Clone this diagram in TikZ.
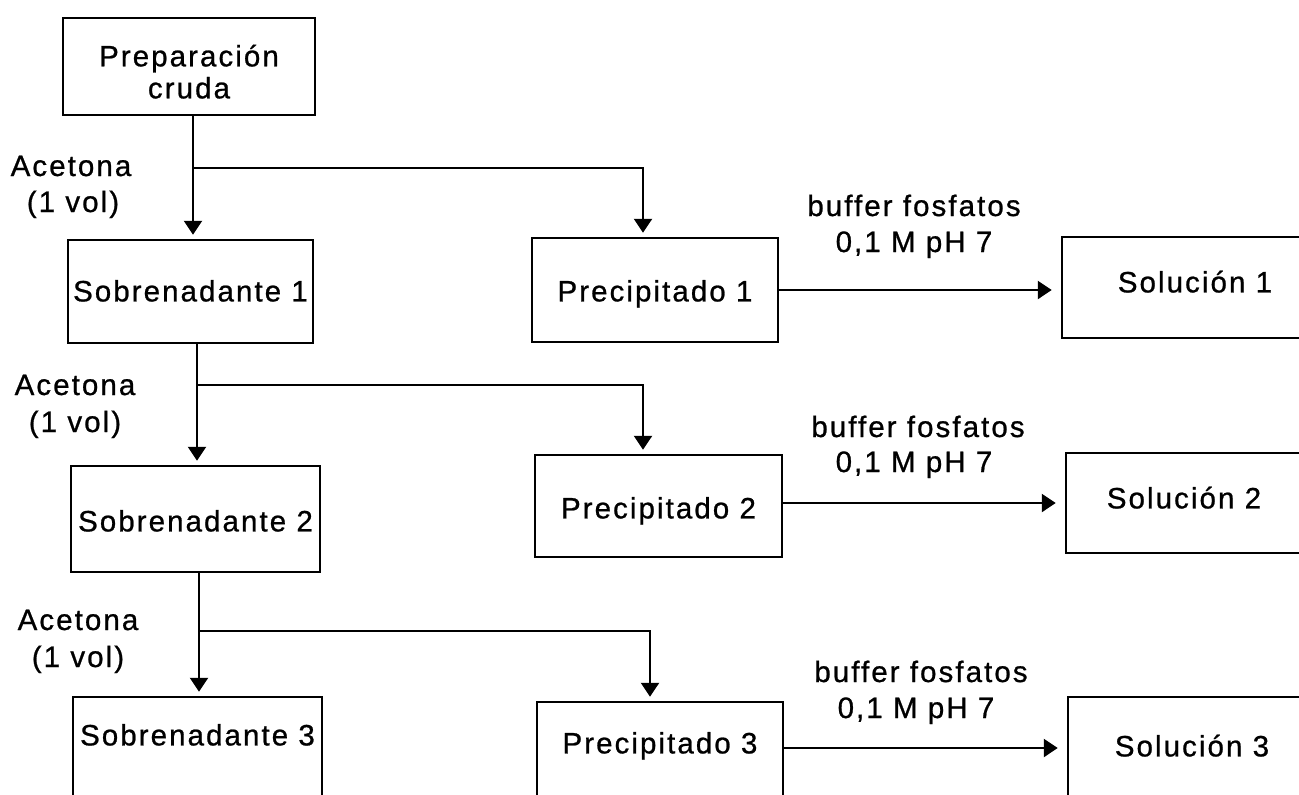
\documentclass[tikz,border=0pt]{standalone}
\usepackage{fontspec}
\setmainfont{Liberation Sans}[LetterSpace=7,FakeBold=0.8]
\usetikzlibrary{arrows.meta,calc}
\begin{document}
\begin{tikzpicture}[x=1pt,y=-1pt,line width=2.5pt,
  every node/.style={font=\fontsize{29.5}{32}\selectfont, inner sep=0pt},
  box/.style={draw, rectangle, align=center, line width=2.5pt},
  lab/.style={anchor=base},
  arr/.style={-{Triangle[width=18pt,length=14pt]}},
  varr/.style={arr, shorten >=4pt},
  harr/.style={arr, shorten >=9pt}]
\useasboundingbox (0,0) rectangle (1299,795);
\clip (0,0) rectangle (1299,795);
\fill[white] (0,0) rectangle (1299,795);
% boxes
\node[box, minimum width=252pt, minimum height=97pt] (prep) at (189,66.5) {\rule{0pt}{32pt}Preparación\\cruda};
\node[box, minimum width=245pt, minimum height=103pt, text height=35.3pt, text depth=15.5pt] (sob1) at (190.5,291.5) {Sobrenadante 1};
\node[box, minimum width=249pt, minimum height=106pt, text height=37.8pt, text depth=13pt] (sob2) at (195.5,519) {Sobrenadante 2};
\node[box, minimum width=249pt, minimum height=104pt, text height=21.8pt, text depth=29pt] (sob3) at (197.5,749) {Sobrenadante 3};
\node[box, minimum width=246pt, minimum height=104pt, text height=36.8pt, text depth=14pt] (pre1) at (655,290) {Precipitado 1};
\node[box, minimum width=247pt, minimum height=102pt, text height=37.8pt, text depth=13pt] (pre2) at (658.5,506) {Precipitado 2};
\node[box, minimum width=246pt, minimum height=102pt, text height=25.8pt, text depth=25pt] (pre3) at (660,753) {Precipitado 3};
\node[box, minimum width=266pt, minimum height=101pt, text height=30.3pt, text depth=20.5pt] (sol1) at (1195,287.5) {Solución 1};
\node[box, minimum width=236pt, minimum height=100pt, text height=30.8pt, text depth=20pt] (sol2) at (1184,503) {Solución 2};
\node[box, minimum width=248pt, minimum height=102pt, text height=33.8pt, text depth=17pt] (sol3) at (1192,748) {Solución 3};
% branch points
\coordinate (b1) at (193,168);
\coordinate (c1) at (643,168);
\coordinate (b2) at (197,385);
\coordinate (c2) at (643,385);
\coordinate (b3) at (199,631);
\coordinate (c3) at (650,631);
% row 1
\draw (prep.south -| b1) -- (b1);
\draw[varr] (b1) -- (b1 |- sob1.north);
\draw[varr] (b1) -- (c1) -- (c1 |- pre1.north);
\draw[harr] (pre1.east) -- (sol1.west |- pre1.east);
% row 2
\draw (sob1.south -| b2) -- (b2);
\draw[varr] (b2) -- (b2 |- sob2.north);
\draw[varr] (b2) -- (c2) -- (c2 |- pre2.north);
\draw[harr] (pre2.east |- sol2.west) -- (sol2.west);
% row 3
\draw (sob2.south -| b3) -- (b3);
\draw[varr] (b3) -- (b3 |- sob3.north);
\draw[varr] (b3) -- (c3) -- (c3 |- pre3.north);
\draw[harr] (pre3.east |- sol3.west) -- (sol3.west);
% labels
\node[lab] (ac1) at (71,176) {Acetona};
\node[lab] (vo1) at (73,212) {(1 vol)};
\node[lab] (ac2) at (75,395) {Acetona};
\node[lab] (vo2) at (75,432) {(1 vol)};
\node[lab] (ac3) at (78,630) {Acetona};
\node[lab] (vo3) at (78,667) {(1 vol)};
\node[lab] (bf1) at (914,216) {buffer fosfatos};
\node[lab] (ph1) at (914,252) {0,1 M pH 7};
\node[lab] (bf2) at (918,437) {buffer fosfatos};
\node[lab] (ph2) at (914,472) {0,1 M pH 7};
\node[lab] (bf3) at (921,682) {buffer fosfatos};
\node[lab] (ph3) at (916,718) {0,1 M pH 7};
\end{tikzpicture}
\end{document}
